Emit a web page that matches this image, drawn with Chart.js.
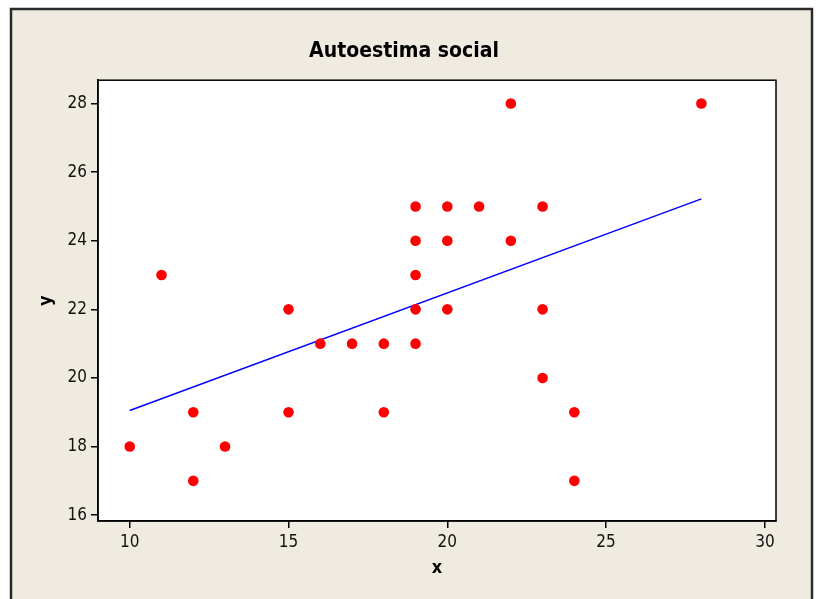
<!DOCTYPE html>
<html>
<head>
<meta charset="utf-8">
<script src="https://cdn.jsdelivr.net/npm/chart.js@4.4.1/dist/chart.umd.min.js"></script>
<style>
  html, body { margin: 0; padding: 0; background: #ffffff; }
  #wrap { width: 816px; height: 599px; position: relative; }
  canvas { display: block; }
</style>
</head>
<body>
<div id="wrap"><canvas id="c" width="816" height="599"></canvas></div>
<script>
// ---- data ----
const xValues = [10, 11, 12, 12, 13, 15, 15, 16, 17, 18, 18, 19, 19, 19, 19, 19, 20, 20, 20, 21, 22, 22, 23, 23, 23, 24, 24, 28];
const yValues = [18, 23, 19, 17, 18, 22, 19, 21, 21, 21, 19, 25, 24, 23, 22, 21, 25, 24, 22, 25, 28, 24, 25, 22, 20, 19, 17, 28];
const fitX = [10, 28];
const fitY = [19.05, 25.22];
const xTicks = [10, 15, 20, 25, 30];
const yTicks = [16, 18, 20, 22, 24, 26, 28];
const chartTitle = 'Autoestima social';
const xLabel = 'x';
const yLabel = 'y';

const points = xValues.map((x, i) => ({ x: x, y: yValues[i] }));
const fitLine = fitX.map((x, i) => ({ x: x, y: fitY[i] }));

const FONT = '"DejaVu Sans Condensed", "DejaVu Sans", sans-serif';

const framePlugin = {
  id: 'frame',
  beforeDraw(chart) {
    const ctx = chart.ctx;
    const a = chart.chartArea;
    ctx.save();
    ctx.fillStyle = '#ffffff';
    ctx.fillRect(0, 0, chart.width, chart.height);
    ctx.fillStyle = '#efebe1';
    ctx.fillRect(10, 8, 803, chart.height);
    ctx.strokeStyle = '#2a2a2a';
    ctx.lineWidth = 2.5;
    ctx.beginPath();
    ctx.moveTo(11, chart.height + 2);
    ctx.lineTo(11, 9);
    ctx.lineTo(812, 9);
    ctx.lineTo(812, chart.height + 2);
    ctx.stroke();
    ctx.fillStyle = '#ffffff';
    ctx.fillRect(a.left, a.top, a.right - a.left, a.bottom - a.top);
    ctx.restore();
  },
  afterDatasetsDraw(chart) {
    const ctx = chart.ctx;
    const a = chart.chartArea;
    ctx.save();
    ctx.strokeStyle = '#000000';
    ctx.lineWidth = 1.5;
    ctx.strokeRect(a.left, a.top, a.right - a.left, a.bottom - a.top);
    ctx.restore();
  }
};

new Chart(document.getElementById('c'), {
  type: 'scatter',
  data: {
    datasets: [
      {
        type: 'line',
        data: fitLine,
        borderColor: '#0000ff',
        borderWidth: 1.5,
        pointRadius: 0,
        fill: false,
        tension: 0,
        order: 2
      },
      {
        data: points,
        backgroundColor: '#ff0000',
        borderColor: '#ff0000',
        pointRadius: 5.3,
        pointBorderWidth: 0,
        order: 1
      }
    ]
  },
  options: {
    responsive: false,
    animation: false,
    events: [],
    layout: { padding: { left: 32, right: 40, top: 0, bottom: 0 } },
    plugins: {
      legend: { display: false },
      tooltip: { enabled: false },
      title: {
        display: true,
        text: chartTitle,
        color: '#000000',
        font: { family: FONT, size: 21, weight: 'bold' },
        padding: { top: 39, bottom: 16 }
      }
    },
    scales: {
      x: {
        type: 'linear',
        min: 9.0,
        max: 30.35,
        afterFit(scale) { scale.height = 78; },
        afterBuildTicks(scale) { scale.ticks = xTicks.map(v => ({ value: v })); },
        grid: { display: true, drawOnChartArea: false, drawTicks: true, tickLength: 7, color: '#000000', lineWidth: 1.5 },
        border: { display: true, color: '#000000', width: 1.5 },
        ticks: { color: '#111111', font: { family: FONT, size: 17 }, padding: 4, maxRotation: 0 },
        title: { display: true, text: xLabel, color: '#000000', font: { family: FONT, size: 18, weight: 'bold' }, padding: { top: 0, bottom: 20 } }
      },
      y: {
        type: 'linear',
        min: 15.83,
        max: 28.68,
        afterFit(scale) { scale.width = 66; },
        afterBuildTicks(scale) { scale.ticks = yTicks.map(v => ({ value: v })); },
        grid: { display: true, drawOnChartArea: false, drawTicks: true, tickLength: 7, color: '#000000', lineWidth: 1.5 },
        border: { display: true, color: '#000000', width: 1.5 },
        ticks: { color: '#111111', font: { family: FONT, size: 17 }, padding: 4 },
        title: { display: true, text: yLabel, color: '#000000', font: { family: FONT, size: 18, weight: 'bold' }, padding: { top: 4, bottom: 0 } }
      }
    }
  },
  plugins: [framePlugin]
});
</script>
</body>
</html>
